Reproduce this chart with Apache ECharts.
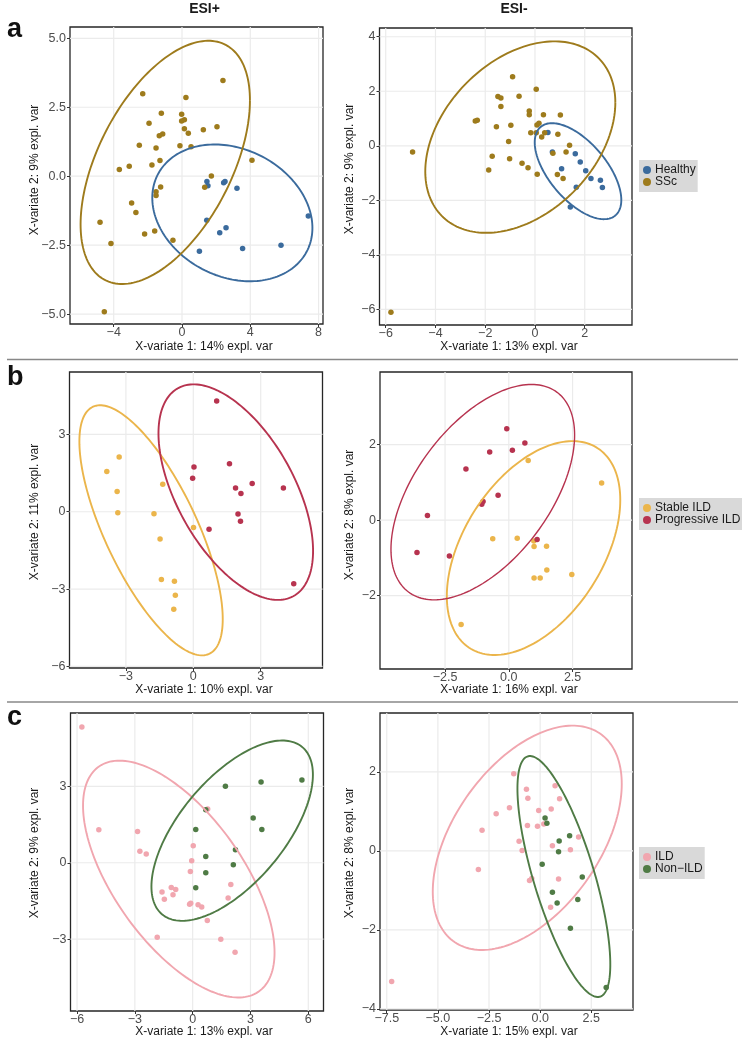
<!DOCTYPE html>
<html>
<head>
<meta charset="utf-8">
<script src="https://cdn.jsdelivr.net/npm/echarts@6/dist/echarts.min.js"></script>
<style>
html,body{margin:0;padding:0;background:#fff;}
#chart{width:742px;height:1039px;}
</style>
</head>
<body>
<div id="chart"></div>
<script>
// ---------- data ----------
// Panel a, ESI+
const aPlusHealthy = [[1.46,-0.19],[1.52,-0.35],[1.45,-1.60],[1.02,-2.72],[2.21,-2.05],[2.44,-0.24],[2.52,-0.19],[2.58,-1.87],[3.22,-0.44],[3.55,-2.62],[5.80,-2.50],[7.40,-1.44]];
const aPlusSSc = [[-4.80,-1.67],[-4.16,-2.44],[-4.55,-4.92],[-3.67,0.24],[-3.09,0.36],[-2.95,-0.97],[-2.70,-1.32],[-2.50,1.12],[-2.30,2.99],[-2.19,-2.10],[-1.93,1.92],[-1.76,0.41],[-1.60,-1.99],[-1.52,1.02],[-1.52,-0.56],[-1.52,-0.70],[-1.33,1.47],[-1.29,0.57],[-1.25,-0.39],[-1.21,2.28],[-1.13,1.53],[-0.53,-2.32],[-0.12,1.10],[-0.02,2.25],[-0.02,2.00],[0.14,2.05],[0.14,1.72],[0.23,2.85],[0.37,1.56],[0.53,1.07],[1.25,1.68],[1.33,-0.40],[1.72,0.01],[2.05,1.79],[2.40,3.47],[4.10,0.58]];
// Panel a, ESI-
const aMinusHealthy = [[0.52,0.49],[0.70,-0.23],[1.07,-0.84],[1.62,-0.29],[1.82,-0.59],[2.04,-0.91],[2.25,-1.20],[2.63,-1.26],[2.71,-1.53],[1.66,-1.52],[1.42,-2.24]];
const aMinusSSc = [[-5.79,-6.10],[-4.92,-0.23],[-2.40,0.91],[-2.32,0.94],[-1.86,-0.89],[-1.72,-0.38],[-1.55,0.70],[-1.49,1.81],[-1.37,1.75],[-1.37,1.44],[-1.06,0.16],[-1.02,-0.47],[-0.97,0.75],[-0.90,2.53],[-0.64,1.82],[-0.52,-0.64],[-0.28,-0.80],[-0.23,1.28],[-0.23,1.14],[-0.17,0.48],[0.05,2.07],[0.08,0.76],[0.16,0.83],[0.05,0.48],[0.09,-1.04],[0.27,0.32],[0.34,1.14],[0.39,0.48],[0.72,-0.27],[0.90,-1.05],[0.92,0.42],[1.02,1.13],[1.13,-1.20],[1.25,-0.23],[1.39,0.02]];
// Panel b, ESI+
const bPlusStable = [[-3.85,1.56],[-3.30,2.12],[-3.39,0.79],[-3.36,-0.04],[-1.75,-0.08],[-1.36,1.07],[-1.48,-1.06],[-1.42,-2.63],[-0.84,-2.70],[-0.80,-3.24],[-0.87,-3.78],[0.01,-0.61]];
const bPlusProgressive = [[1.04,4.30],[0.03,1.74],[-0.03,1.30],[0.70,-0.68],[1.61,1.86],[1.88,0.92],[2.12,0.71],[1.99,-0.09],[2.10,-0.37],[2.62,1.10],[4.01,0.92],[4.47,-2.79]];
// Panel b, ESI-
const bMinusStable = [[-1.87,-2.76],[-0.63,-0.49],[0.33,-0.48],[0.76,1.58],[0.98,-0.55],[0.99,-0.70],[0.99,-1.53],[1.23,-1.53],[1.48,-0.69],[1.49,-1.32],[2.47,-1.44],[3.64,0.98]];
const bMinusProgressive = [[-3.60,-0.86],[-3.19,0.12],[-2.33,-0.95],[-1.68,1.35],[-1.06,0.42],[-1.01,0.49],[-0.75,1.80],[-0.42,0.66],[-0.08,2.42],[0.14,1.85],[0.63,2.04],[1.11,-0.51]];
// Panel c, ESI+
const cPlusILD = [[-5.75,5.33],[-4.87,1.30],[-2.86,1.23],[-2.74,0.45],[-2.41,0.34],[-1.84,-2.92],[-1.59,-1.15],[-1.47,-1.43],[-1.11,-0.97],[-1.02,-1.26],[-0.88,-1.05],[-0.16,-1.63],[-0.10,-1.59],[-0.12,-0.34],[-0.05,0.08],[0.03,0.67],[0.28,-1.65],[0.47,-1.74],[0.78,2.11],[0.76,-2.27],[1.46,-3.00],[1.84,-1.38],[1.98,-0.85],[2.20,-3.51]];
const cPlusNonILD = [[0.16,1.31],[0.16,-0.98],[0.68,2.08],[0.68,0.25],[0.68,-0.39],[1.70,3.00],[2.11,-0.08],[2.22,0.51],[3.14,1.76],[3.55,3.17],[3.59,1.31],[5.67,3.25]];
// Panel c, ESI-
const cMinusILD = [[-7.26,-3.31],[-3.02,-0.47],[-2.84,0.52],[-2.15,0.94],[-1.50,1.09],[-1.29,1.95],[-1.03,0.24],[-0.88,0.01],[-0.67,1.56],[-0.60,1.33],[-0.62,0.64],[-0.52,-0.75],[-0.41,-0.70],[-0.13,0.62],[-0.07,1.02],[0.18,0.68],[0.54,1.06],[0.51,-1.43],[0.60,0.13],[0.73,1.65],[0.90,-0.71],[0.95,1.32],[1.48,0.03],[1.88,0.35]];
const cMinusNonILD = [[0.24,0.83],[0.33,0.70],[0.10,-0.34],[0.90,-0.02],[0.93,0.25],[1.44,0.38],[2.06,-0.66],[0.60,-1.05],[0.83,-1.32],[1.84,-1.23],[1.48,-1.96],[3.23,-3.46]];

// confidence ellipses: [centreX, centreY, radiusX, radiusY, correlation]
const aPlusEllHealthy = [2.95,-1.33,4.69,2.48,-0.22];
const aPlusEllSSc = [-0.98,0.50,4.96,4.41,0.51];
const aMinusEllHealthy = [1.73,-0.93,1.74,1.76,-0.60];
const aMinusEllSSc = [-0.59,0.32,3.82,3.51,0.36];
const bPlusEllStable = [-1.88,-0.72,3.19,4.85,-0.71];
const bPlusEllProgressive = [1.89,0.76,3.44,4.18,-0.545];
const bMinusEllStable = [0.97,-0.74,3.40,2.83,0.45];
const bMinusEllProgressive = [-1.02,0.74,3.60,2.85,0.53];
const cPlusEllILD = [-0.72,-0.64,4.97,4.65,-0.62];
const cPlusEllNonILD = [2.05,1.26,4.19,3.54,0.62];
const cMinusEllILD = [-0.63,0.33,4.62,2.84,0.48];
const cMinusEllNonILD = [1.16,-0.65,2.27,3.05,-0.73];

// tick values
const aPlusXTicks = [-4,0,4,8], aPlusYTicks = [-5,-2.5,0,2.5,5];
const aMinusXTicks = [-6,-4,-2,0,2], aMinusYTicks = [-6,-4,-2,0,2,4];
const bPlusXTicks = [-3,0,3], bPlusYTicks = [-6,-3,0,3];
const bMinusXTicks = [-2.5,0,2.5], bMinusYTicks = [-2,0,2];
const cPlusXTicks = [-6,-3,0,3,6], cPlusYTicks = [-3,0,3];
const cMinusXTicks = [-7.5,-5,-2.5,0,2.5], cMinusYTicks = [-4,-2,0,2];

// axis titles
const xTitles = ['X-variate 1: 14% expl. var','X-variate 1: 13% expl. var','X-variate 1: 10% expl. var','X-variate 1: 16% expl. var','X-variate 1: 13% expl. var','X-variate 1: 15% expl. var'];
const yTitles = ['X-variate 2: 9% expl. var','X-variate 2: 9% expl. var','X-variate 2: 11% expl. var','X-variate 2: 8% expl. var','X-variate 2: 9% expl. var','X-variate 2: 8% expl. var'];

const groupNames = { a: ['Healthy','SSc'], b: ['Stable ILD','Progressive ILD'], c: ['ILD','Non\u2212ILD'] };
const colors = {
  'Healthy':'#3B6B9D', 'SSc':'#9E7B1C',
  'Stable ILD':'#EBB54B', 'Progressive ILD':'#B7334F',
  'ILD':'#F1A6AF', 'Non\u2212ILD':'#4F7B45'
};

// ---------- layout ----------
const FONT = "'Liberation Sans', Arial, Helvetica, sans-serif";
const panels = [
  { grid:{left:70, top:27, width:253, height:297}, x:[-6.56,8.26], y:[-5.36,5.41], xt:aPlusXTicks, yt:aPlusYTicks, xd:0, yd:1,
    groups:[['Healthy',aPlusHealthy,aPlusEllHealthy],['SSc',aPlusSSc,aPlusEllSSc]], xTitle:[204,347], yTitle:[35,170], ew:[1.9,1.9] },
  { grid:{left:379.5, top:28, width:252.5, height:297}, x:[-6.25,3.90], y:[-6.57,4.32], xt:aMinusXTicks, yt:aMinusYTicks, xd:0, yd:0,
    groups:[['Healthy',aMinusHealthy,aMinusEllHealthy],['SSc',aMinusSSc,aMinusEllSSc]], xTitle:[509,347], yTitle:[350,169], ew:[1.9,1.9] },
  { grid:{left:69.5, top:372, width:253, height:296}, x:[-5.51,5.75], y:[-6.06,5.42], xt:bPlusXTicks, yt:bPlusYTicks, xd:0, yd:0,
    groups:[['Stable ILD',bPlusStable,bPlusEllStable],['Progressive ILD',bPlusProgressive,bPlusEllProgressive]], xTitle:[204,690], yTitle:[35,512], ew:[1.9,1.9] },
  { grid:{left:380, top:372, width:252, height:297}, x:[-5.05,4.83], y:[-3.94,3.92], xt:bMinusXTicks, yt:bMinusYTicks, xd:1, yd:0,
    groups:[['Stable ILD',bMinusStable,bMinusEllStable],['Progressive ILD',bMinusProgressive,bMinusEllProgressive]], xTitle:[509,690], yTitle:[350,515], ew:[1.9,1.4] },
  { grid:{left:70.5, top:713, width:253, height:298}, x:[-6.34,6.79], y:[-5.82,5.88], xt:cPlusXTicks, yt:cPlusYTicks, xd:0, yd:0,
    groups:[['ILD',cPlusILD,cPlusEllILD],['Non\u2212ILD',cPlusNonILD,cPlusEllNonILD]], xTitle:[204,1032], yTitle:[35,853], ew:[1.9,1.9] },
  { grid:{left:380, top:713, width:253, height:297}, x:[-7.83,4.54], y:[-4.03,3.49], xt:cMinusXTicks, yt:cMinusYTicks, xd:1, yd:0,
    groups:[['ILD',cMinusILD,cMinusEllILD],['Non\u2212ILD',cMinusNonILD,cMinusEllNonILD]], xTitle:[509,1032], yTitle:[350,853], ew:[1.9,1.9] }
];

function fmt(d){
  return function(v){
    const s = Math.abs(v).toFixed(d);
    return (v < 0 ? '\u2212' : '') + s;
  };
}

const grids = [], xAxes = [], yAxes = [], series = [], graphics = [];
panels.forEach(function(p, i){
  grids.push(Object.assign({show:true, borderColor:'#262626', borderWidth:1.3, backgroundColor:'#fff', containLabel:false}, p.grid));
  const common = {
    gridIndex:i, type:'value', scale:true,
    axisLine:{show:false, onZero:false},
    splitLine:{show:false},
    axisLabel:{color:'#4D4D4D', fontSize:12.5, fontFamily:FONT},
    axisTick:{show:true, length:3, lineStyle:{color:'#333', width:1}}
  };
  xAxes.push(Object.assign({}, common, {
    min:p.x[0], max:p.x[1],
    axisTick:Object.assign({}, common.axisTick, {customValues:p.xt}),
    axisLabel:Object.assign({}, common.axisLabel, {customValues:p.xt, formatter:fmt(p.xd), margin:2})
  }));
  yAxes.push(Object.assign({}, common, {
    min:p.y[0], max:p.y[1],
    axisTick:Object.assign({}, common.axisTick, {customValues:p.yt}),
    axisLabel:Object.assign({}, common.axisLabel, {customValues:p.yt, formatter:fmt(p.yd), margin:4})
  }));
  // major grid lines at the tick values
  series.push({
    type:'custom', name:'grid' + i, xAxisIndex:i, yAxisIndex:i, data:[[p.x[0], p.y[0]]], z:1, silent:true,
    renderItem:function(params, api){
      const cs = params.coordSys;
      const kids = [];
      p.xt.forEach(function(v){
        const px = api.coord([v, p.y[0]])[0];
        kids.push({type:'line', shape:{x1:px, y1:cs.y, x2:px, y2:cs.y + cs.height}, style:{stroke:'#EBEBEB', lineWidth:1.2}});
      });
      p.yt.forEach(function(v){
        const py = api.coord([p.x[0], v])[1];
        kids.push({type:'line', shape:{x1:cs.x, y1:py, x2:cs.x + cs.width, y2:py}, style:{stroke:'#EBEBEB', lineWidth:1.2}});
      });
      return {type:'group', children:kids};
    }
  });
  p.groups.forEach(function(g, gi){
    series.push({
      type:'scatter', name:g[0], xAxisIndex:i, yAxisIndex:i, data:g[1],
      symbol:'circle', symbolSize:5.5, itemStyle:{color:colors[g[0]], opacity:1}, z:2, silent:true
    });
    const lw = p.ew[gi];
    series.push({
      type:'custom', name:g[0] + ' ellipse', xAxisIndex:i, yAxisIndex:i, data:[g[2]], z:3, silent:true,
      renderItem:function(params, api){
        const cx = api.value(0), cy = api.value(1), rx = api.value(2), ry = api.value(3), rho = api.value(4);
        const phi = Math.acos(rho);
        const pts = [];
        for (let k = 0; k <= 180; k++) {
          const t = k / 180 * 2 * Math.PI;
          pts.push(api.coord([cx + rx * Math.cos(t), cy + ry * Math.cos(t - phi)]));
        }
        return { type:'polyline', shape:{points:pts}, style:{stroke:colors[g[0]], fill:null, lineWidth:lw} };
      }
    });
  });
  graphics.push({ type:'text', x:p.xTitle[0], y:p.xTitle[1], style:{text:xTitles[i], fill:'#1A1A1A', font:'12px ' + FONT, align:'center', verticalAlign:'middle'} });
  graphics.push({ type:'text', x:p.yTitle[0], y:p.yTitle[1], rotation:Math.PI/2, style:{text:yTitles[i], fill:'#1A1A1A', font:'12px ' + FONT, align:'center', verticalAlign:'middle'} });
});

// column titles, panel letters, separators
graphics.push({ type:'text', x:204.5, y:9, style:{text:'ESI+', fill:'#1A1A1A', font:'bold 14px ' + FONT, align:'center', verticalAlign:'middle'} });
graphics.push({ type:'text', x:514, y:9, style:{text:'ESI-', fill:'#1A1A1A', font:'bold 14px ' + FONT, align:'center', verticalAlign:'middle'} });
[['a',30],['b',378],['c',718]].forEach(function(l){
  graphics.push({ type:'text', x:7, y:l[1], style:{text:l[0], fill:'#111', font:'bold 27px ' + FONT, align:'left', verticalAlign:'middle'} });
});
[359.5, 702].forEach(function(yy){
  graphics.push({ type:'line', shape:{x1:7, y1:yy, x2:738, y2:yy}, style:{stroke:'#888', lineWidth:1.5} });
});

function legendAt(names, top){
  return {
    data:names, orient:'vertical', left:639, top:top,
    backgroundColor:'#D9D9D9', borderWidth:0, padding:[4,2,4,4],
    itemWidth:8, itemHeight:8, itemGap:0, icon:'circle', selectedMode:false,
    textStyle:{fontSize:12, fontFamily:FONT, color:'#1A1A1A', lineHeight:12, padding:[0,0,0,-1]}
  };
}

const chart = echarts.init(document.getElementById('chart'), null, {renderer:'canvas'});
chart.setOption({
  animation:false,
  backgroundColor:'#fff',
  grid:grids, xAxis:xAxes, yAxis:yAxes, series:series,
  legend:[legendAt(groupNames.a,160), legendAt(groupNames.b,498), legendAt(groupNames.c,847)],
  graphic:graphics
});
</script>
</body>
</html>
